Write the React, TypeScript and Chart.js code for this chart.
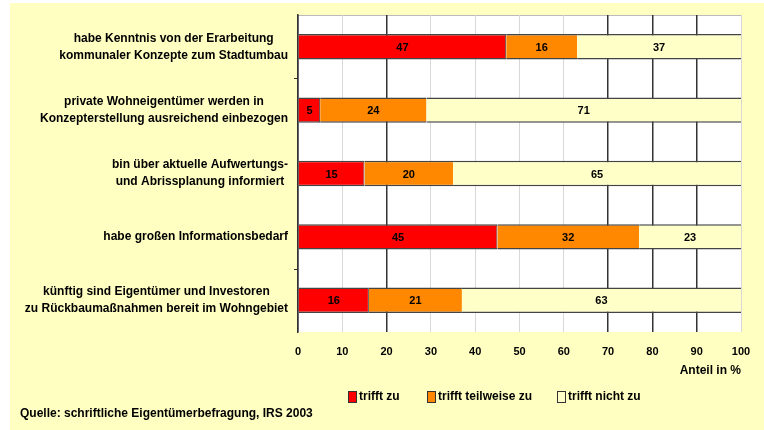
import React, { useEffect, useRef } from "react";
import { Chart, registerables } from "chart.js";

Chart.register(...registerables);

const categories: string[][] = [
  ["habe Kenntnis von der Erarbeitung", "kommunaler Konzepte zum Stadtumbau"],
  ["private Wohneigentümer werden in", "Konzepterstellung ausreichend einbezogen"],
  ["bin über aktuelle Aufwertungs-", "und Abrissplanung informiert"],
  ["habe großen Informationsbedarf"],
  ["künftig sind Eigentümer und Investoren", "zu Rückbaumaßnahmen bereit im Wohngebiet"],
];
const seriesNames = ["trifft zu", "trifft teilweise zu", "trifft nicht zu"];
const trifftZu = [47, 5, 15, 45, 16];
const teilweise = [16, 24, 20, 32, 21];
const nicht = [37, 71, 65, 23, 63];
const xTicks = [0, 10, 20, 30, 40, 50, 60, 70, 80, 90, 100];
const axisTitle = "Anteil in %";
const sourceText = "Quelle: schriftliche Eigentümerbefragung, IRS 2003";

const BG = "#FFFFC2";
const COLORS = ["#FF0000", "#FF8800", "#FFFFC8"];
const FONT = "'Liberation Sans', Arial, sans-serif";

export default function App() {
  const ref = useRef<HTMLCanvasElement | null>(null);
  useEffect(() => {
    document.body.style.margin = "0";
    const canvas = ref.current!;
    const bgPlugin = {
      id: "bgPlugin",
      beforeDraw(chart: any) {
        const { ctx, chartArea } = chart;
        ctx.save();
        ctx.fillStyle = "#FFFFFF";
        ctx.fillRect(0, 0, chart.width, chart.height);
        ctx.fillStyle = BG;
        ctx.fillRect(10, 3, chart.width - 10, chart.height - 3);
        ctx.fillStyle = "#FFFFFF";
        ctx.fillRect(chartArea.left, chartArea.top, chartArea.right - chartArea.left, chartArea.bottom - chartArea.top);
        ctx.strokeStyle = "#BBBBBB";
        ctx.lineWidth = 1;
        ctx.beginPath();
        ctx.moveTo(chartArea.left, chartArea.top + 0.5);
        ctx.lineTo(chartArea.right, chartArea.top + 0.5);
        ctx.stroke();
        ctx.restore();
      },
    };
    const labelPlugin = {
      id: "labelPlugin",
      afterDatasetsDraw(chart: any) {
        const { ctx } = chart;
        ctx.save();
        ctx.font = `bold 11px ${FONT}`;
        ctx.fillStyle = "#000";
        ctx.textAlign = "center";
        ctx.textBaseline = "middle";
        chart.data.datasets.forEach((ds: any, di: number) => {
          const meta = chart.getDatasetMeta(di);
          meta.data.forEach((el: any, i: number) => {
            const x = (el.x + el.base) / 2;
            ctx.fillText(String(ds.data[i]), x, el.y + 1);
          });
        });
        ctx.restore();
      },
      afterDraw(chart: any) {
        const { ctx, chartArea } = chart;
        const yScale = chart.scales.y;
        ctx.save();
        // category labels, centred block, right edge near axis
        ctx.font = `bold 12px ${FONT}`;
        ctx.fillStyle = "#000";
        ctx.textAlign = "center";
        ctx.textBaseline = "middle";
        const right = chartArea.left - 10;
        const lh = 17;
        categories.forEach((lines, i) => {
          const y = yScale.getPixelForValue(i);
          const w = Math.max(...lines.map((l) => ctx.measureText(l).width));
          const cx = right - w / 2;
          lines.forEach((l, j) => {
            ctx.fillText(l, cx, y + (j - (lines.length - 1) / 2) * lh);
          });
        });
        // small y tick marks
        ctx.strokeStyle = "#333";
        ctx.lineWidth = 1;
        [0.5, 3.5].forEach((v) => {
          const y = Math.round(yScale.getPixelForValue(v)) + 0.5;
          ctx.beginPath();
          ctx.moveTo(chartArea.left - 4, y);
          ctx.lineTo(chartArea.left, y);
          ctx.stroke();
        });
        ctx.font = `bold 12px ${FONT}`;
        ctx.textAlign = "right";
        ctx.fillText(axisTitle, chartArea.right, 371);
        // legend
        ctx.textAlign = "left";
        const xs = [348, 427, 557];
        seriesNames.forEach((n, i) => {
          ctx.fillStyle = COLORS[i];
          ctx.fillRect(xs[i], 391, 8, 11);
          ctx.strokeStyle = "#333";
          ctx.lineWidth = 1;
          ctx.strokeRect(xs[i] + 0.5, 391.5, 8, 11);
          ctx.fillStyle = "#000";
          ctx.fillText(n, xs[i] + 11, 397);
        });
        ctx.fillText(sourceText, 20, 414);
        ctx.restore();
      },
    };
    const darkVals = [0, 20, 70, 80, 90];
    const chart = new Chart(canvas, {
      type: "bar",
      data: {
        labels: categories.map((c) => c.join(" ")),
        datasets: [trifftZu, teilweise, nicht].map((d, i) => ({
          label: seriesNames[i],
          data: d,
          backgroundColor: COLORS[i],
          borderColor: "#444444",
          borderWidth: { top: 1.5, bottom: 1.5, left: 0, right: i === 0 ? 1 : 0 },
          borderSkipped: false,
          barPercentage: 0.4,
          categoryPercentage: 1,
        })),
      },
      options: {
        indexAxis: "y",
        animation: false,
        responsive: false,
        maintainAspectRatio: false,
        layout: { padding: { top: 15, right: 23, left: 0, bottom: 0 } },
        plugins: { legend: { display: false }, tooltip: { enabled: false } },
        scales: {
          x: {
            stacked: true,
            min: 0,
            max: 100,
            afterBuildTicks(scale: any) {
              scale.ticks = xTicks.map((v) => ({ value: v }));
            },
            afterFit(scale: any) {
              scale.height = 98;
            },
            ticks: { color: "#000", font: { family: FONT, size: 11, weight: "bold" }, padding: 13 },
            grid: {
              color: (c: any) => (darkVals.includes(c.tick?.value) ? "#333333" : "#D8D8D8"),
              lineWidth: (c: any) => (darkVals.includes(c.tick?.value) ? 1.5 : 1),
              drawTicks: false,
            },
            border: { display: false },
          },
          y: {
            stacked: true,
            afterFit(scale: any) {
              scale.width = 298;
              scale.paddingTop = 0;
              scale.paddingBottom = 0;
            },
            ticks: { display: false },
            grid: { display: false },
            border: { display: true, color: "#333333", width: 1.5 },
          },
        },
      },
      plugins: [bgPlugin, labelPlugin],
    } as any);
    return () => chart.destroy();
  }, []);
  return (
    <div style={{ width: 764, height: 430 }}>
      <canvas ref={ref} width={764} height={430} style={{ width: 764, height: 430, display: "block" }} />
    </div>
  );
}
